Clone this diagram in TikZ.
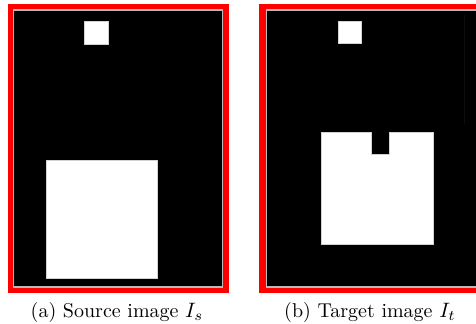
\documentclass[tikz,border=0pt]{standalone}
\usepackage{amsmath}
\usepackage{tikz}
\usetikzlibrary{positioning}

\tikzset{
  redframe/.style={fill=red},
  imgfield/.style={fill=black, draw=gray!55, line width=0.5pt},
  blob/.style={fill=white, draw=gray!35, line width=0.4pt},
  caption/.style={inner sep=0pt, font=\fontsize{9.6}{11}\selectfont}
}

\begin{document}
\begin{tikzpicture}[x=0.48pt,y=-0.48pt]
  \useasboundingbox (0,0) rectangle (476,323);
  % (a) source image
  \fill[redframe] (8,4) rectangle (229,293);
  \filldraw[imgfield] (13.5,10) rectangle (222.5,287);
  \filldraw[blob] (84,21) rectangle (108,44);
  \filldraw[blob] (46,160) rectangle (157,278);
  \node[caption] (capa) at (117,312) {(a) Source image $I_{s}$};
  % (b) target image
  \fill[redframe] (259,4) rectangle (476,293);
  \filldraw[imgfield] (266.5,10) rectangle (477,287);
  \draw[black!95!white, line width=0.4pt] (464,15) -- (464,124);
  \filldraw[blob] (338,21) rectangle (361,43);
  \filldraw[blob] (321,132) -- (371,132) -- (371,154) -- (389,154) -- (389,132)
    -- (433,132) -- (433,244) -- (321,244) -- cycle;
  \node[caption] (capb) at (370,312) {(b) Target image $I_{t}$};
\end{tikzpicture}
\end{document}
